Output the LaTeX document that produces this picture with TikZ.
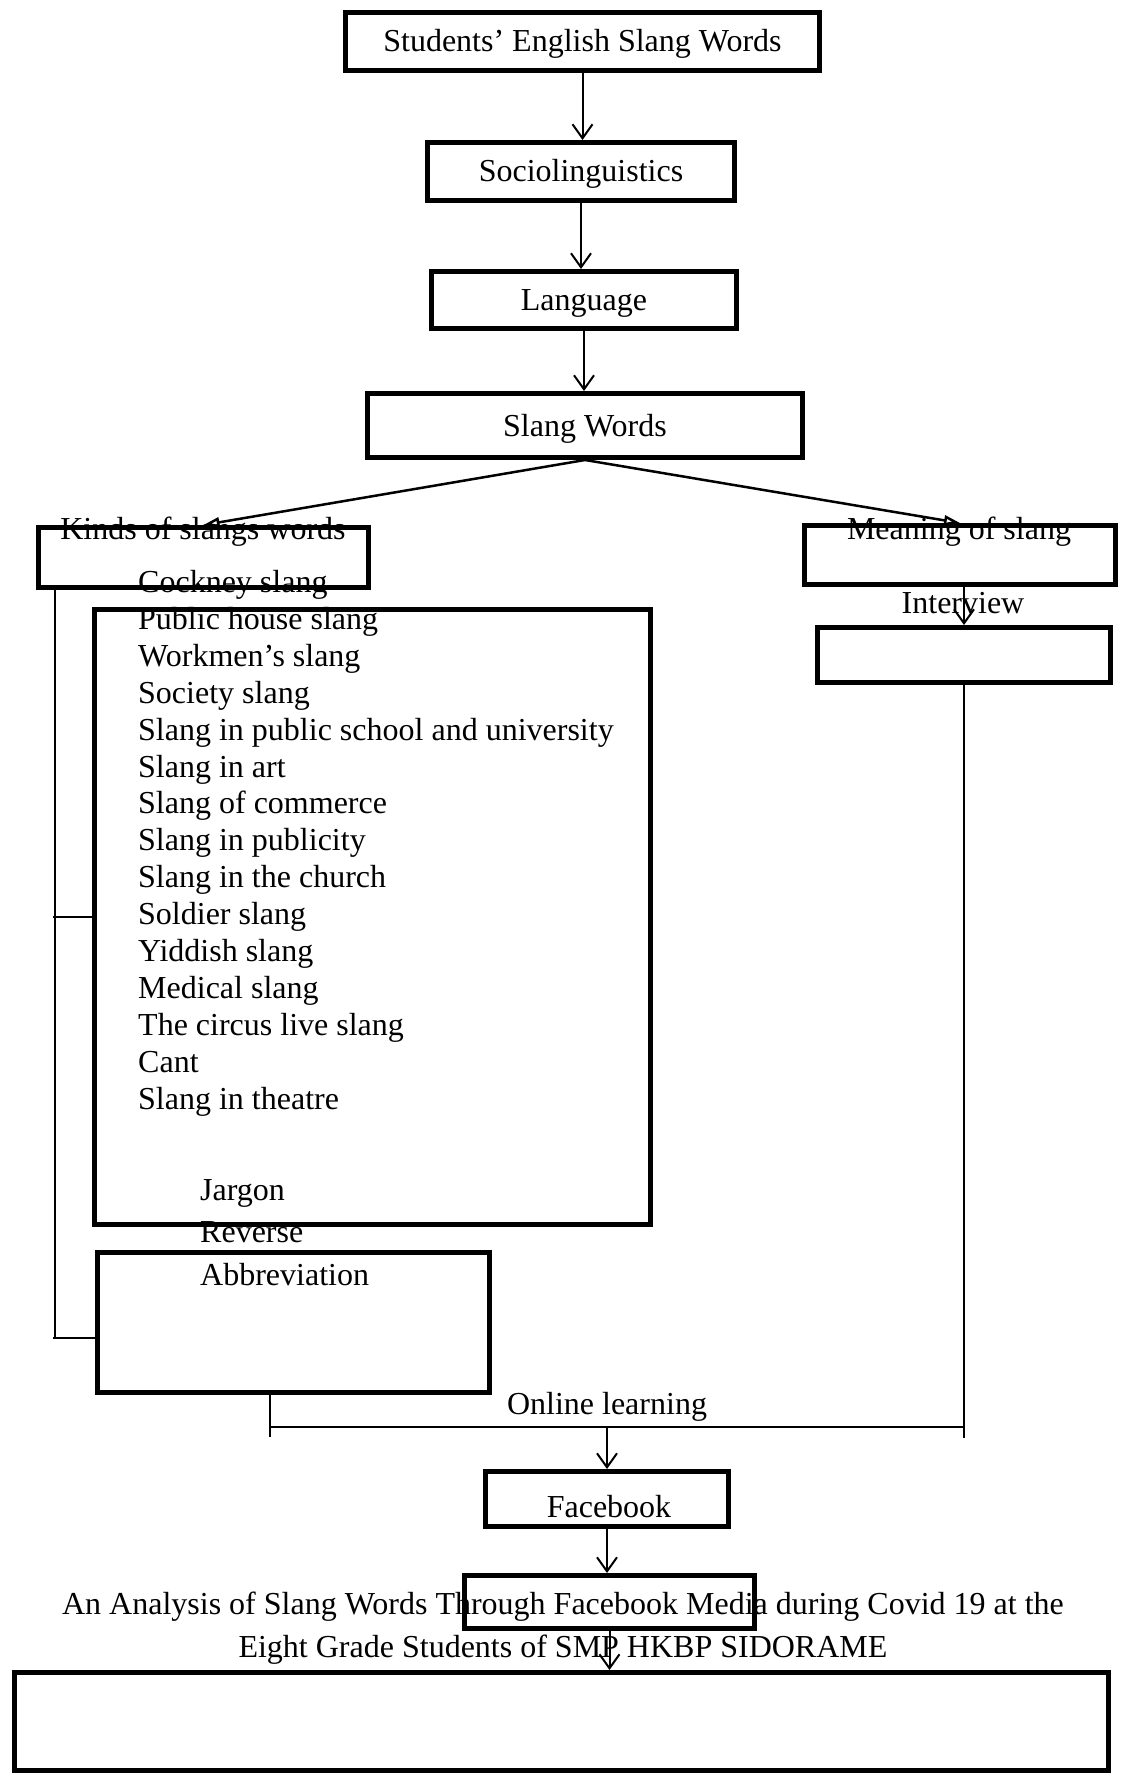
\documentclass[tikz,border=0pt]{standalone}
\usepackage{fontspec}
\setmainfont{Liberation Serif}
\usetikzlibrary{arrows.meta, positioning, calc}

\begin{document}
\begin{tikzpicture}[x=1pt, y=-1pt,
    box/.style={draw, line width=5pt, inner sep=0pt, font=\fontsize{32}{36.8}\selectfont, text height=28pt, text depth=7pt},
    txt/.style={inner sep=0pt, font=\fontsize{32}{36.8}\selectfont, text height=28pt, text depth=7pt},
    item/.style={txt, anchor=west},
    arr/.style={line width=2pt, -{Straight Barb[length=14pt, width=20pt]}},
    slant/.style={line width=2.5pt, -{Triangle[open, length=16pt, width=10pt]}},
    ln/.style={line width=1.5pt}]
    \useasboundingbox (0,0) rectangle (1124,1776);

    % texts that sit across the boxes
    \node[txt] (kindstxt)    at (203,529) {Kinds of slangs words};
    \node[txt] (meaningtxt)  at (959,529) {Meaning of slang};
    \node[txt] (interviewtxt) at (963,603) {Interview};

    \node[item] (cockney)   at (138,582.0)  {Cockney slang};
    \node[item] (pubhouse)  at (138,618.9)  {Public house slang};
    \node[item] (workmen)   at (138,655.8)  {Workmen’s slang};
    \node[item] (society)   at (138,692.7)  {Society slang};
    \node[item] (school)    at (138,729.6)  {Slang in public school and university};
    \node[item] (art)       at (138,766.5)  {Slang in art};
    \node[item] (commerce)  at (138,803.4)  {Slang of commerce};
    \node[item] (publicity) at (138,840.3)  {Slang in publicity};
    \node[item] (church)    at (138,877.2)  {Slang in the church};
    \node[item] (soldier)   at (138,914.1)  {Soldier slang};
    \node[item] (yiddish)   at (138,951.0)  {Yiddish slang};
    \node[item] (medical)   at (138,987.9)  {Medical slang};
    \node[item] (circus)    at (138,1024.8) {The circus live slang};
    \node[item] (cant)      at (138,1061.7) {Cant};
    \node[item] (theatre)   at (138,1098.6) {Slang in theatre};

    \node[item] (jargon)  at (200,1190) {Jargon};
    \node[item] (reverse) at (200,1232) {Reverse};
    \node[item] (abbrev)  at (200,1275) {Abbreviation};

    \node[txt] (onlinetxt) at (607,1404) {Online learning};
    \node[txt] (fbtxt)     at (609,1507) {Facebook};
    \node[txt] (title1)    at (563,1604) {An Analysis of Slang Words Through Facebook Media during Covid 19 at the};
    \node[txt] (title2)    at (563,1647) {Eight Grade Students of SMP HKBP SIDORAME};

    % boxes
    \node[box, minimum width=474pt, minimum height=58pt] (students) at (582.5,41.5) {Students’ English Slang Words};
    \node[box, minimum width=307pt, minimum height=58pt] (socio) at (581,171.5) {Sociolinguistics};
    \node[box, minimum width=305pt, minimum height=57pt] (language) at (584,300) {Language};
    \node[box, minimum width=435pt, minimum height=64pt] (slangwords) at (585,425.5) {Slang Words};
    \node[box, minimum width=330pt, minimum height=60pt] (kinds) at (203.5,557.5) {};
    \node[box, minimum width=311pt, minimum height=59pt] (meaning) at (960,555) {};
    \node[box, minimum width=293pt, minimum height=55pt] (intbox) at (964,655) {};
    \node[box, minimum width=556pt, minimum height=615pt] (listbox) at (372.5,917) {};
    \node[box, minimum width=392pt, minimum height=140pt] (abbrbox) at (293.5,1322.5) {};
    \node[box, minimum width=243pt, minimum height=55pt] (facebook) at (607,1499) {};
    \node[box, minimum width=290pt, minimum height=53pt] (titlebox) at (609.5,1602) {};
    \node[box, minimum width=1094pt, minimum height=98pt] (resultbox) at (561.5,1721.5) {};

    % connectors
    \draw[arr] (students.south) -- (students.south |- socio.north);
    \draw[arr] (socio.south) -- (socio.south |- language.north);
    \draw[arr] (language.south) -- (language.south |- slangwords.north);
    \draw[slant] (slangwords.south) -- (kinds.north);
    \draw[slant] (slangwords.south) -- (meaning.north);
    \draw[arr] (meaning.south -| intbox.north) -- (intbox.north);

    \coordinate (trunktop) at (55,590);
    \coordinate (trunkend) at (55,1338);
    \draw[ln] (trunktop) -- (trunkend);
    \draw[ln] ([xshift=-2pt]trunktop |- listbox.west) -- (listbox.west);
    \draw[ln] ([xshift=-2pt]trunkend) -- (trunkend -| abbrbox.west);

    \coordinate (leftdrop) at (270,1437);
    \coordinate (rightdrop) at (964,1438);
    \coordinate (join) at (607,1427);
    \draw[ln] (abbrbox.south -| leftdrop) -- (leftdrop);
    \draw[ln] (intbox.south -| rightdrop) -- (rightdrop);
    \draw[ln] (leftdrop |- join) -- (rightdrop |- join);
    \draw[arr] (join) -- (join |- facebook.north);
    \draw[arr] (facebook.south) -- (facebook.south |- titlebox.north);
    \draw[arr] (titlebox.south) -- (titlebox.south |- resultbox.north);
\end{tikzpicture}
\end{document}
